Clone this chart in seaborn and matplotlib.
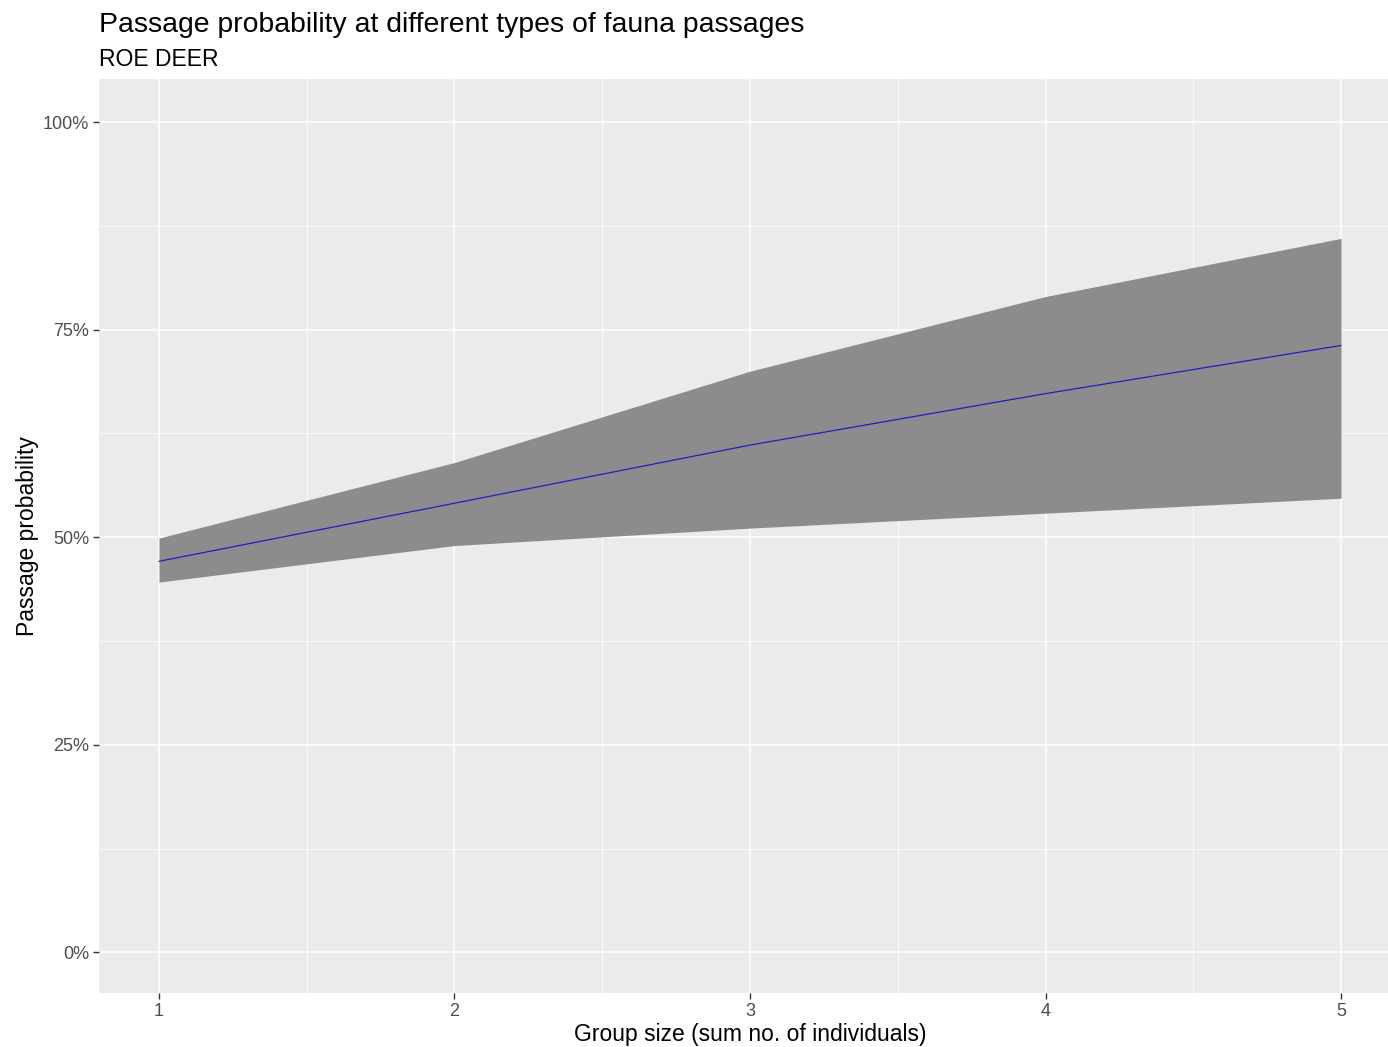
import numpy as np
import pandas as pd
import seaborn as sns
import matplotlib.pyplot as plt
from matplotlib.ticker import FixedLocator, PercentFormatter

# data
group_size = [1, 2, 3, 4, 5]
prob_mean = [0.471, 0.541, 0.611, 0.673, 0.731]
prob_lower = [0.446, 0.490, 0.511, 0.529, 0.547]
prob_upper = [0.499, 0.590, 0.700, 0.790, 0.860]

df = pd.DataFrame({"group": group_size, "mean": prob_mean,
                   "lower": prob_lower, "upper": prob_upper})

sns.set_theme(style="darkgrid", rc={"axes.facecolor": "#EBEBEB",
                                    "grid.color": "white"})
plt.rcParams["font.family"] = ["Liberation Sans", "DejaVu Sans"]

fig = plt.figure(figsize=(13.88, 10.47), dpi=100)
ax = fig.add_axes([99 / 1388, 54 / 1047, 1289 / 1388, 914 / 1047])

ax.fill_between(df["group"], df["lower"], df["upper"],
                color="#8C8C8C", linewidth=0, zorder=2)
sns.lineplot(data=df, x="group", y="mean", color="#2020C0",
             linewidth=0.9, ax=ax, zorder=3)

ax.set_xlim(0.797, 5.159)
ax.set_ylim(-0.049, 1.052)

ax.xaxis.set_major_locator(FixedLocator([1, 2, 3, 4, 5]))
ax.xaxis.set_minor_locator(FixedLocator([1.5, 2.5, 3.5, 4.5]))
ax.yaxis.set_major_locator(FixedLocator([0, 0.25, 0.5, 0.75, 1.0]))
ax.yaxis.set_minor_locator(FixedLocator([0.125, 0.375, 0.625, 0.875]))
ax.yaxis.set_major_formatter(PercentFormatter(1.0, decimals=0))

ax.grid(which="major", color="white", linewidth=1.1)
ax.grid(which="minor", color="white", linewidth=0.55)
for s in ax.spines.values():
    s.set_visible(False)

ax.tick_params(axis="both", which="major", length=4, width=1,
               color="#333333", labelcolor="#4D4D4D", labelsize=13, pad=3,
               bottom=True, left=True)
ax.tick_params(axis="both", which="minor", length=0)

ax.set_xlabel("Group size (sum no. of individuals)", fontsize=16.5,
              color="black", labelpad=2)
ax.xaxis.label.set_x(0.505)
ax.set_ylabel("Passage probability", fontsize=16.5, color="black",
              labelpad=3)

fig.text(99 / 1388, 1 - 25 / 1047, "Passage probability at different types of fauna passages",
         fontsize=20.4, va="center", ha="left", color="black")
fig.text(99 / 1388, 1 - 59 / 1047, "ROE DEER", fontsize=16.5,
         va="center", ha="left", color="black")

fig.savefig("out.png", dpi=100, facecolor="white")
